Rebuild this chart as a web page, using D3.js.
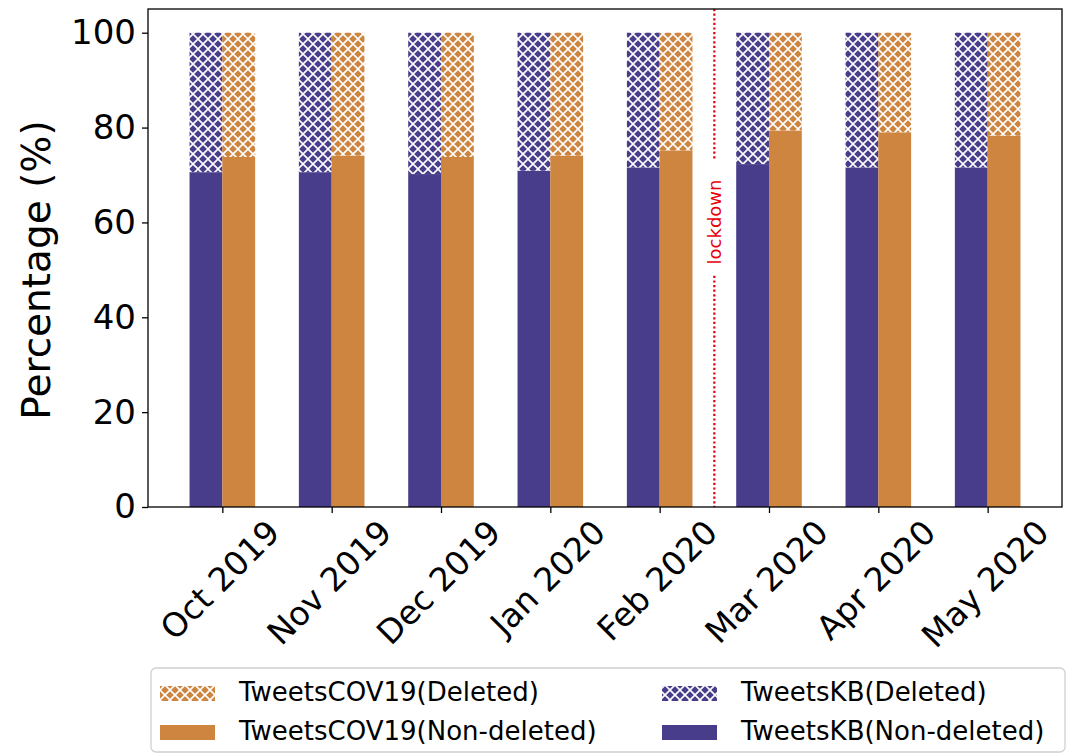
<!DOCTYPE html>
<html>
<head>
<meta charset="utf-8">
<script src="https://cdn.jsdelivr.net/npm/d3@7"></script>
<style>
    body { margin: 0; background: #fff; }
    svg { display: block; font-family: 'DejaVu Sans', sans-serif; }
</style>
</head>
<body>
<div id="chart"></div>
<script>
// month labels on the x axis
const months = ["Oct 2019", "Nov 2019", "Dec 2019", "Jan 2020", "Feb 2020", "Mar 2020", "Apr 2020", "May 2020"];
// share of non-deleted tweets (%), the rest up to 100 is deleted
const kbNonDeleted = [70.6, 70.6, 70.2, 70.9, 71.6, 72.3, 71.6, 71.6];
const covNonDeleted = [73.8, 74.1, 73.8, 74.1, 75.2, 79.4, 79.0, 78.3];
const yTicks = [0, 20, 40, 60, 80, 100];
const lockdownAt = 4.5;

class StackedBars {
    constructor(element) {
        this.element = element;
        this.initVis();
    }

    initVis() {
        const vis = this;

        vis.margin = { top: 9, right: 8, bottom: 248, left: 148 };
        vis.width = 1070 - vis.margin.left - vis.margin.right;
        vis.height = 755 - vis.margin.top - vis.margin.bottom;

        vis.root = d3.select("#" + vis.element).append("svg")
            .attr("width", 1070)
            .attr("height", 755);

        // hatch patterns ("xxx")
        const defs = vis.root.append("defs");
        const P = 10;
        const hatch = (id, color) => {
            const p = defs.append("pattern")
                .attr("id", id)
                .attr("patternUnits", "userSpaceOnUse")
                .attr("width", P)
                .attr("height", P);
            p.append("rect").attr("width", P).attr("height", P).attr("fill", color);
            p.append("path")
                .attr("d", `M-1,-1L${P + 1},${P + 1}M-1,${P + 1}L${P + 1},-1`)
                .attr("stroke", "#fff")
                .attr("stroke-width", 1.6);
        };
        hatch("hatchKB", "#483d8b");
        hatch("hatchCOV", "#cd853f");

        vis.svg = vis.root.append("g")
            .attr("transform", `translate(${vis.margin.left},${vis.margin.top})`);

        vis.x = d3.scaleLinear()
            .domain([-0.68, months.length - 1 + 0.68])
            .range([0, vis.width]);

        vis.y = d3.scaleLinear()
            .domain([0, 105])
            .range([vis.height, 0]);

        vis.updateVis();
    }

    updateVis() {
        const vis = this;
        const bw = vis.x(0.3) - vis.x(0);

        const series = [
            { vals: kbNonDeleted, shift: -0.3, color: "#483d8b", hatch: "url(#hatchKB)" },
            { vals: covNonDeleted, shift: 0, color: "#cd853f", hatch: "url(#hatchCOV)" }
        ];

        series.forEach(s => {
            const g = vis.svg.append("g");
            // non-deleted part
            g.selectAll(".solid")
                .data(s.vals)
                .enter().append("rect")
                .attr("x", (d, i) => vis.x(i + s.shift))
                .attr("width", bw)
                .attr("y", d => vis.y(d))
                .attr("height", d => vis.y(0) - vis.y(d))
                .attr("fill", s.color);
            // deleted part stacked on top
            g.selectAll(".hatched")
                .data(s.vals)
                .enter().append("rect")
                .attr("x", (d, i) => vis.x(i + s.shift))
                .attr("width", bw)
                .attr("y", vis.y(100))
                .attr("height", d => vis.y(d) - vis.y(100))
                .attr("fill", s.hatch);
        });

        // lockdown marker
        const lx = vis.x(lockdownAt);
        vis.svg.append("line")
            .attr("x1", lx).attr("x2", lx)
            .attr("y1", 0).attr("y2", vis.height)
            .attr("stroke", "#e8000b")
            .attr("stroke-width", 2.2)
            .attr("stroke-dasharray", "2.2,2.4");
        vis.svg.append("rect")
            .attr("x", lx - 10).attr("y", 160 - vis.margin.top)
            .attr("width", 20).attr("height", 114)
            .attr("fill", "#fff");
        vis.svg.append("text")
            .attr("transform", `translate(${lx + 7},${222 - vis.margin.top}) rotate(-90)`)
            .attr("text-anchor", "middle")
            .style("font-size", "18px")
            .style("fill", "#e8000b")
            .text("lockdown");

        // frame
        vis.svg.append("rect")
            .attr("width", vis.width)
            .attr("height", vis.height)
            .attr("fill", "none")
            .attr("stroke", "#000")
            .attr("stroke-width", 1.3);

        // y axis
        const yAxis = vis.svg.append("g")
            .call(d3.axisLeft(vis.y).tickValues(yTicks).tickSize(6).tickPadding(6));
        yAxis.select(".domain").remove();
        yAxis.selectAll("line").attr("stroke-width", 1.3);
        yAxis.selectAll("text")
            .style("font-size", "34px")
            .style("font-family", "'DejaVu Sans', sans-serif")
            .attr("fill", "#000");

        // x axis, labels rotated 45 deg and centred on the tick
        const fs = 33;
        const xAxis = vis.svg.append("g")
            .attr("transform", `translate(0,${vis.height})`)
            .call(d3.axisBottom(vis.x).tickValues(d3.range(months.length)).tickFormat(i => months[i]).tickSize(6));
        xAxis.select(".domain").remove();
        xAxis.selectAll("line").attr("stroke-width", 1.3);
        xAxis.selectAll("text")
            .style("font-size", fs + "px")
            .style("font-family", "'DejaVu Sans', sans-serif")
            .attr("fill", "#000")
            .attr("text-anchor", "middle")
            .attr("dy", "0.35em")
            .each(function () {
                const w = this.getComputedTextLength();
                const off = 10 + (w + fs * 0.8) * Math.SQRT1_2 / 2;
                d3.select(this).attr("y", 0)
                    .attr("transform", `translate(-3,${off}) rotate(-45)`);
            });

        // y label
        vis.svg.append("text")
            .attr("transform", `translate(${-98},${270 - vis.margin.top}) rotate(-90)`)
            .attr("text-anchor", "middle")
            .style("font-size", "39px")
            .style("fill", "#000")
            .text("Percentage (%)");

        // legend
        const leg = vis.root.append("g");
        leg.append("rect")
            .attr("x", 151).attr("y", 668)
            .attr("width", 914).attr("height", 84)
            .attr("rx", 5)
            .attr("fill", "#fff")
            .attr("stroke", "#d0d0d0")
            .attr("stroke-width", 1.3);
        const items = [
            { label: "TweetsCOV19(Deleted)", fill: "url(#hatchCOV)", x: 160, y: 701 },
            { label: "TweetsCOV19(Non-deleted)", fill: "#cd853f", x: 160, y: 740 },
            { label: "TweetsKB(Deleted)", fill: "url(#hatchKB)", x: 662, y: 701 },
            { label: "TweetsKB(Non-deleted)", fill: "#483d8b", x: 662, y: 740 }
        ];
        items.forEach(it => {
            leg.append("rect")
                .attr("x", it.x).attr("y", it.y - 15)
                .attr("width", 55).attr("height", 15)
                .attr("fill", it.fill);
            leg.append("text")
                .attr("x", it.x + 79).attr("y", it.y)
                .style("font-size", "26px")
                .style("fill", "#000")
                .text(it.label);
        });
    }
}

new StackedBars("chart");
</script>
</body>
</html>
